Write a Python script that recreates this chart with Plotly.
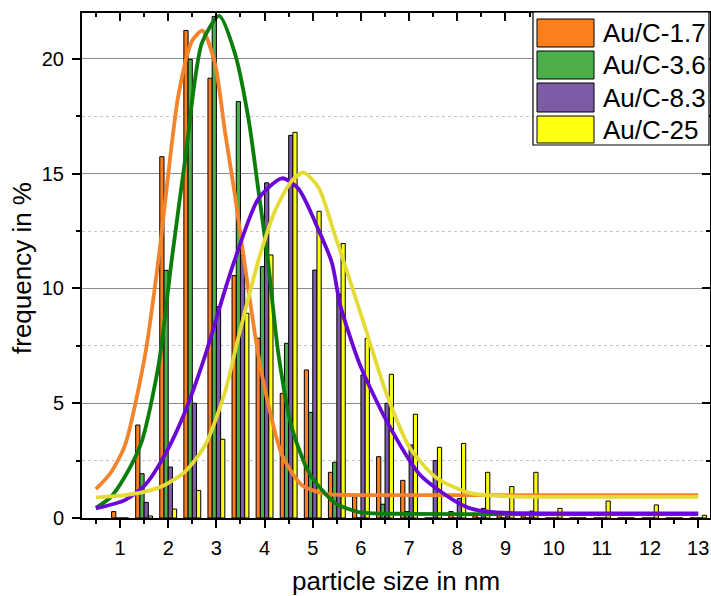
import plotly.graph_objects as go

# ---------------- data ----------------
sizes = [1.0, 1.5, 2.0, 2.5, 3.0, 3.5, 4.0, 4.5, 5.0, 5.5, 6.0, 6.5, 7.0,
         7.5, 8.0, 8.5, 9.0, 9.5, 10.0, 10.5, 11.0, 11.5, 12.0, 12.5, 13.0]

freq_17 = [0.28, 4.05, 15.74, 21.24, 19.16, 10.56, 7.83, 5.43, 6.45, 1.99, 0.93, 2.67, 1.64,
           0.0, 0.28, 0.10, 0.10, 0.10, 0.0, 0.0, 0.0, 0.0, 0.0, 0.0, 0.0]
freq_36 = [0.0, 1.93, 10.79, 19.98, 21.85, 18.14, 10.95, 7.61, 4.60, 2.43, 0.0, 0.60, 0.28,
           0.0, 0.0, 0.0, 0.0, 0.0, 0.0, 0.0, 0.0, 0.0, 0.0, 0.0, 0.0]
freq_83 = [0.0, 0.68, 2.22, 5.00, 9.21, 11.46, 14.60, 16.67, 10.80, 9.75, 6.23, 5.00, 3.18,
           2.50, 0.85, 0.42, 0.10, 0.30, 0.0, 0.0, 0.0, 0.0, 0.0, 0.0, 0.0]
freq_25 = [0.0, 0.09, 0.39, 1.20, 3.43, 8.92, 11.46, 16.80, 13.36, 11.96, 7.83, 6.26, 4.52,
           3.08, 3.25, 1.99, 1.37, 1.99, 0.42, 0.0, 0.74, 0.0, 0.57, 0.0, 0.12]

# fitted curves, points
fit17_x = [0.5, 0.8, 1.1, 1.52, 1.8, 2.21, 2.5, 2.71, 2.97, 3.18, 3.39, 3.56, 3.87, 4.08, 4.36, 4.77, 5.26, 6.0, 8.0, 10.0, 13.0]
fit17_y = [1.26, 1.95, 3.15, 7.1, 11.3, 18.4, 20.8, 21.23, 19.8, 16.8, 14.0, 11.46, 7.1, 4.92, 2.75, 1.44, 1.05, 1.0, 1.0, 1.0, 1.0]

fit36_x = [0.5, 0.8, 1.1, 1.45, 1.8, 2.07, 2.35, 2.7, 3.06, 3.39, 3.67, 3.87, 4.07, 4.29, 4.57, 4.91, 5.2, 5.5, 5.98, 7.0, 9.0, 11.0, 13.0]
fit36_y = [0.44, 0.9, 1.8, 3.33, 6.67, 11.2, 15.6, 20.7, 21.87, 20.2, 17.34, 14.3, 11.2, 7.1, 3.9, 2.02, 1.2, 0.6, 0.25, 0.18, 0.17, 0.17, 0.17]

fit83_x = [0.5, 1.1, 1.52, 1.93, 2.35, 2.77, 3.18, 3.39, 3.87, 4.36, 4.7, 5.12, 5.4, 5.57, 5.98, 6.54, 7.23, 7.92, 8.27, 8.75, 10.14, 13.0]
fit83_y = [0.42, 0.78, 1.44, 2.75, 4.63, 7.1, 9.95, 11.3, 13.9, 14.8, 14.35, 12.55, 11.1, 9.28, 6.67, 4.2, 1.87, 0.78, 0.42, 0.25, 0.2, 0.2]

fit25_x = [0.5, 1.1, 1.52, 1.93, 2.35, 2.77, 3.18, 3.46, 3.87, 4.22, 4.57, 4.81, 5.12, 5.47, 5.67, 6.05, 6.54, 7.02, 7.58, 8.27, 9.0, 10.0, 13.0]
fit25_y = [0.9, 1.0, 1.15, 1.44, 2.02, 3.18, 5.5, 7.9, 11.2, 13.4, 14.7, 15.05, 14.4, 12.26, 11.0, 8.55, 5.36, 3.04, 1.73, 1.08, 0.95, 0.92, 0.92]

series_names = ["Au/C-1.7", "Au/C-3.6", "Au/C-8.3", "Au/C-25"]
y_ticks = [0, 5, 10, 15, 20]
x_ticks = [1, 2, 3, 4, 5, 6, 7, 8, 9, 10, 11, 12, 13]

# ---------------- styles ----------------
bar_colors = ["#fb7f1c", "#4caf4c", "#7d5ba6", "#ffff14"]
line_colors = ["#f3842c", "#0b7d0b", "#6a06d6", "#e4dc35"]
FONT = "Liberation Sans, Arial, sans-serif"

W, H = 711, 596
ML, MR, MT, MB = 82, 1, 13, 78
PW, PH = W - ML - MR, H - MT - MB
XR = [0.2106, 13.245]
YR = [0, 22]

def px(xp):
    return (xp - ML) / PW

def py(yp):
    return (H - MB - yp) / PH

fig = go.Figure()
for name, vals, col in zip(series_names, [freq_17, freq_36, freq_83, freq_25], bar_colors):
    fig.add_trace(go.Bar(x=sizes, y=vals, name=name, marker=dict(color=col, line=dict(color="black", width=1)),
                         showlegend=False))

for fx, fy, col in zip([fit17_x, fit36_x, fit83_x, fit25_x], [fit17_y, fit36_y, fit83_y, fit25_y], line_colors):
    fig.add_trace(go.Scatter(x=fx, y=fy, mode="lines", line=dict(color=col, width=3.8, shape="spline", smoothing=0.7),
                             showlegend=False, hoverinfo="skip"))

# empty trace to activate mirror axes (top/right with inward ticks)
fig.add_trace(go.Scatter(x=[], y=[], xaxis="x2", yaxis="y2", showlegend=False, hoverinfo="skip"))

tickfont = dict(family=FONT, size=20, color="black")
fig.update_layout(
    width=W, height=H, margin=dict(l=ML, r=MR, t=MT, b=MB, pad=0),
    paper_bgcolor="white", plot_bgcolor="white",
    barmode="group", bargap=0.3, bargroupgap=0.0,
    font=dict(family=FONT, color="black"),
    xaxis=dict(range=XR, tickvals=x_ticks, ticks="outside", ticklen=8, tickwidth=1.5, tickcolor="black",
               minor=dict(dtick=0.5, tick0=0.5, ticks="outside", ticklen=4, tickwidth=1.5, tickcolor="black"),
               showline=True, linewidth=2, linecolor="black", showgrid=False, zeroline=False,
               tickfont=tickfont, ticklabelstandoff=3),
    yaxis=dict(range=YR, tickvals=y_ticks, ticks="outside", ticklen=8, tickwidth=1.5, tickcolor="black",
               minor=dict(dtick=2.5, ticks="outside", ticklen=4, tickwidth=1.5, tickcolor="black",
                          showgrid=True, gridcolor="#c4c4c4", griddash="dot", gridwidth=1),
               showline=True, linewidth=2, linecolor="black", showgrid=True, gridcolor="#8c8c8c", gridwidth=1,
               zeroline=False, tickfont=tickfont, ticklabelstandoff=4),
    xaxis2=dict(range=XR, overlaying="x", side="top", anchor="y", tickvals=x_ticks, ticks="inside", ticklen=8,
                tickwidth=1.5, tickcolor="black",
                minor=dict(dtick=0.5, tick0=0.5, ticks="inside", ticklen=4, tickwidth=1.5, tickcolor="black"),
                showticklabels=False, showline=True, linewidth=1.5, linecolor="black", showgrid=False, zeroline=False),
    yaxis2=dict(range=YR, overlaying="y", side="right", anchor="x", tickvals=y_ticks, ticks="inside", ticklen=8,
                tickwidth=1.5, tickcolor="black",
                minor=dict(dtick=2.5, ticks="inside", ticklen=4, tickwidth=1.5, tickcolor="black"),
                showticklabels=False, showline=True, linewidth=1.5, linecolor="black", showgrid=False, zeroline=False),
)

# axis titles
fig.add_annotation(text="particle size in nm", xref="paper", yref="paper", x=0.5, y=py(581),
                   xanchor="center", yanchor="middle", showarrow=False, font=dict(family=FONT, size=26, color="black"))
fig.add_annotation(text="frequency in %", xref="paper", yref="paper", x=px(22), y=py(268),
                   xanchor="center", yanchor="middle", textangle=-90, showarrow=False,
                   font=dict(family=FONT, size=26, color="black"))

# legend box (drawn manually to mimic the large swatches)
fig.add_shape(type="rect", xref="paper", yref="paper", x0=px(533), x1=px(709), y0=py(145), y1=py(12),
              fillcolor="white", line=dict(color="black", width=1.2), layer="above")
rows = [(19, 47), (51, 79), (83, 112), (116, 143)]
for (r0, r1), name, col in zip(rows, series_names, bar_colors):
    fig.add_shape(type="rect", xref="paper", yref="paper", x0=px(537), x1=px(594), y0=py(r1), y1=py(r0),
                  fillcolor=col, line=dict(color="black", width=1), layer="above")
    fig.add_annotation(text=name, xref="paper", yref="paper", x=px(601), y=py((r0 + r1) / 2),
                       xanchor="left", yanchor="middle", showarrow=False,
                       font=dict(family=FONT, size=26, color="black"))

fig.write_html("out.html")
